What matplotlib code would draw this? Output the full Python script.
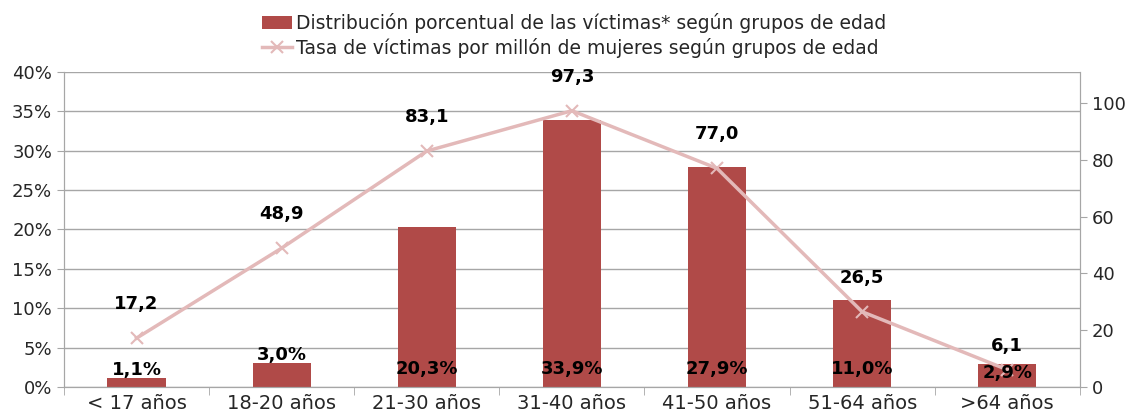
import matplotlib
matplotlib.use('Agg')
import matplotlib.pyplot as plt
from matplotlib.ticker import FuncFormatter, FixedLocator
import numpy as np

grupos = ['< 17 años', '18-20 años', '21-30 años', '31-40 años', '41-50 años', '51-64 años', '>64 años']
porcentaje = [1.1, 3.0, 20.3, 33.9, 27.9, 11.0, 2.9]
tasa = [17.2, 48.9, 83.1, 97.3, 77.0, 26.5, 6.1]

lbl_bar = 'Distribución porcentual de las víctimas* según grupos de edad'
lbl_line = 'Tasa de víctimas por millón de mujeres según grupos de edad'

plt.rcParams['font.family'] = ['DejaVu Sans']
bar_c = '#B04A48'
line_c = '#E3B9B9'
grid_c = '#A6A6A6'
txt_c = '#262626'

fig = plt.figure(figsize=(11.26, 4.2), dpi=100)
ax = fig.add_axes([0.0568, 0.0786, 0.9022, 0.7504])
ax2 = ax.twinx()

x = np.arange(len(grupos))
bars = ax.bar(x, porcentaje, width=0.4, color=bar_c, zorder=2, label=lbl_bar)
ax.set_ylim(0, 40)
ax.set_xlim(-0.5, len(grupos) - 0.5)
ax.set_yticks(np.arange(0, 41, 5))
ax.yaxis.set_major_formatter(FuncFormatter(lambda v, p: '%d%%' % v))
ax.grid(axis='y', color=grid_c, lw=1, zorder=0)
ax.set_axisbelow(True)
ax.set_xticks(x)
ax.set_xticklabels(grupos, fontsize=14, color=txt_c)
ax.xaxis.set_minor_locator(FixedLocator(np.arange(-0.5, len(grupos), 1)))
ax.tick_params(axis='x', which='major', length=0, pad=5)
ax.tick_params(axis='x', which='minor', length=6, color=grid_c)
ax.tick_params(axis='y', labelsize=13, length=5, color=grid_c, labelcolor=txt_c)

line, = ax2.plot(x, tasa, color=line_c, lw=2.5, marker='x', markersize=9, mew=1.5,
                 zorder=3, label=lbl_line)
ax2.set_ylim(0, 111)
ax2.set_yticks(np.arange(0, 101, 20))
ax2.tick_params(axis='y', labelsize=13, length=5, color=grid_c, labelcolor=txt_c)
for i, v in enumerate(tasa):
    off = 24 if i == len(tasa) - 1 else 34
    ax2.annotate(('%.1f' % v).replace('.', ','), (x[i], v), xytext=(0, off),
                 textcoords='offset pixels', ha='center', va='center',
                 fontsize=13, fontweight='bold')

# etiquetas de porcentaje (encima de la linea)
pct_y = [2.2, 4.1, 2.3, 2.3, 2.3, 2.3, 1.8]
for i, v in enumerate(porcentaje):
    ax2.text(x[i], pct_y[i], ('%.1f%%' % v).replace('.', ','), ha='center', va='center',
             fontsize=13, fontweight='bold', zorder=5, transform=ax.transData)

for a in (ax, ax2):
    for s in a.spines.values():
        s.set_color(grid_c)
    a.spines['top'].set_visible(False)

fig.legend([bars, line], [lbl_bar, lbl_line], loc='upper center', bbox_to_anchor=(0.51, 1.0),
           ncol=1, frameon=False, fontsize=13.5, handlelength=1.6, handletextpad=0.2,
           labelspacing=0.25, borderaxespad=0.3, labelcolor=txt_c)

fig.savefig('out.png', dpi=100)
